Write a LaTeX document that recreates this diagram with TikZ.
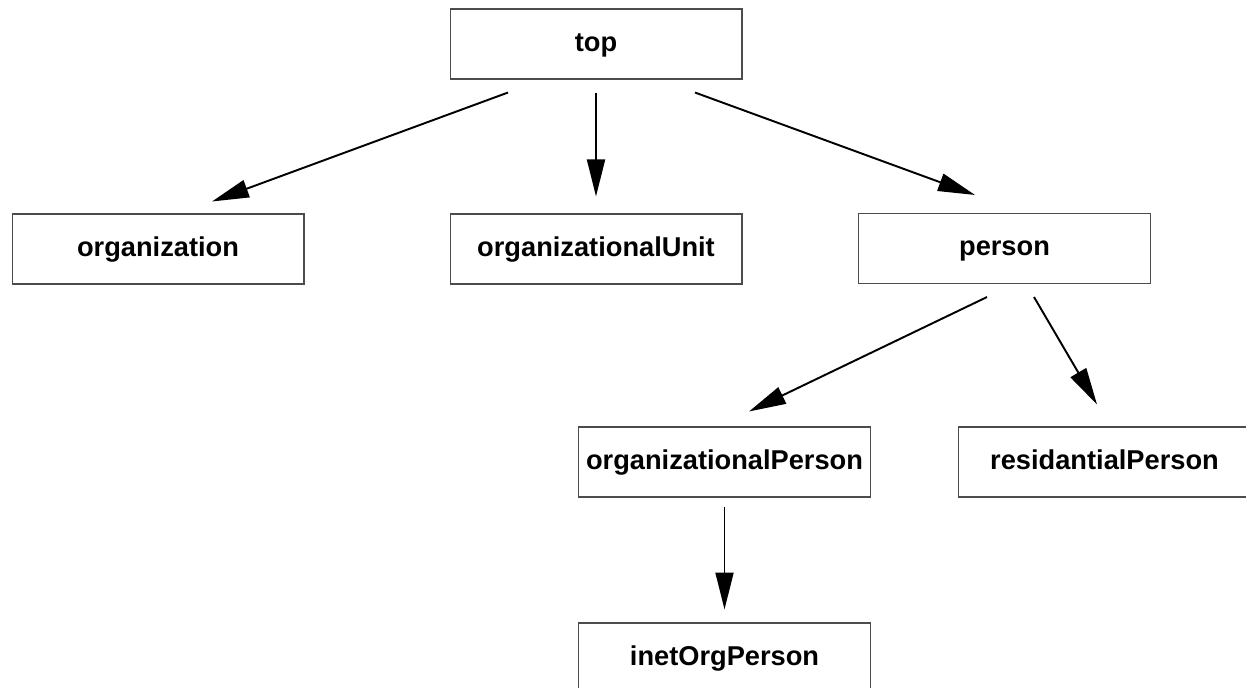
\documentclass[tikz,border=0pt]{standalone}
\usepackage{fontspec}
\setmainfont{Liberation Sans}
\usetikzlibrary{arrows.meta}

\begin{document}
\begin{tikzpicture}[x=0.02cm, y=-0.02cm,
    every node/.style={font=\fontsize{15.5}{18}\selectfont\bfseries},
    classbox/.style={draw=black!70, line width=0.6pt, minimum width=5.84cm, minimum height=1.4cm, inner sep=0pt,
        text height=11.4pt, text depth=3pt},
    arr/.style={-{Triangle[length=0.74cm, width=0.36cm]}, line width=1.1pt}]
    \clip (0,0) rectangle (1246,687);
    \foreach \n/\x/\y/\t in {top/596/44/top, org/158/249/organization, unit/596/249/organizationalUnit,
        person/1004.5/248.5/person, orgperson/724.5/462/organizationalPerson,
        resperson/1104.5/462/residantialPerson, inetperson/724.5/658/inetOrgPerson} {
        \node[classbox] (\n) at (\x,\y) {\t};
    }
    \draw[arr] ([shift={(-88,13)}]top.south) -- ([shift={(54,-12)}]org.north);
    \draw[arr] ([shift={(0,13)}]top.south) -- ([shift={(0,-17)}]unit.north);
    \draw[arr] ([shift={(99,13)}]top.south) -- ([shift={(-29.5,-18)}]person.north);
    \draw[arr] ([shift={(-17.5,13)}]person.south) -- ([shift={(24.5,-15)}]orgperson.north);
    \draw[arr] ([shift={(29.5,13)}]person.south) -- ([shift={(-7.5,-22)}]resperson.north);
    \draw[arr] ([shift={(0,9)}]orgperson.south) -- ([shift={(0,-13)}]inetperson.north);
\end{tikzpicture}
\end{document}
